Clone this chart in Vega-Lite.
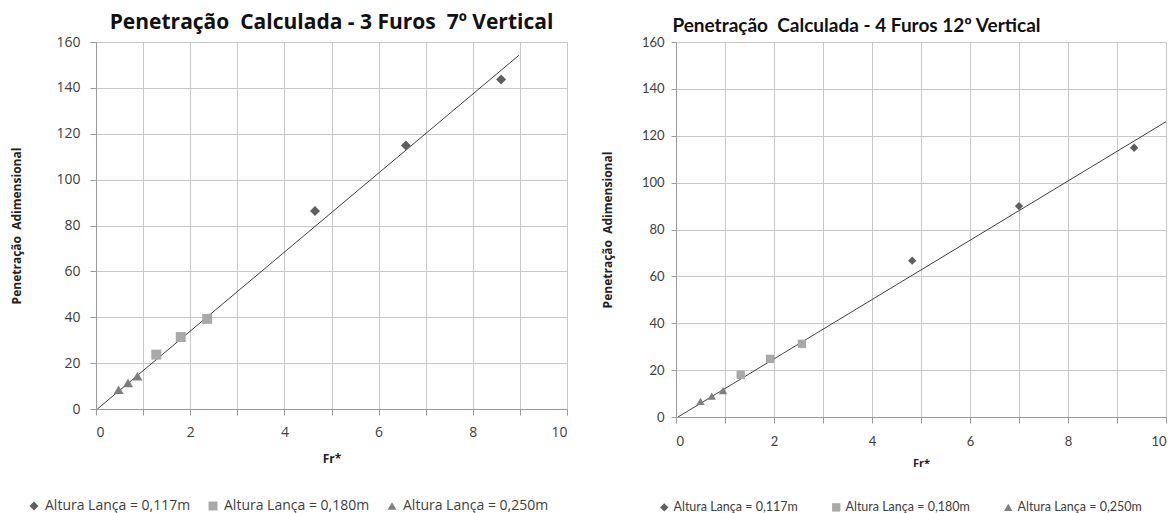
{
  "$schema": "https://vega.github.io/schema/vega-lite/v6.json",
  "background": "white",
  "padding": {"left": 10, "top": 12, "right": 0, "bottom": 0},
  "datasets": {
    "ptsA": [
      {"x": 4.65, "y": 86.3, "serie": "Altura Lança = 0,117m"},
      {"x": 6.58, "y": 114.9, "serie": "Altura Lança = 0,117m"},
      {"x": 8.6, "y": 143.7, "serie": "Altura Lança = 0,117m"},
      {"x": 1.28, "y": 23.7, "serie": "Altura Lança = 0,180m"},
      {"x": 1.8, "y": 31.4, "serie": "Altura Lança = 0,180m"},
      {"x": 2.36, "y": 39.3, "serie": "Altura Lança = 0,180m"},
      {"x": 0.48, "y": 8.4, "serie": "Altura Lança = 0,250m"},
      {"x": 0.68, "y": 11.4, "serie": "Altura Lança = 0,250m"},
      {"x": 0.88, "y": 14.3, "serie": "Altura Lança = 0,250m"}
    ],
    "lineA": [
      {"x": 0.03, "y": 0},
      {"x": 8.98, "y": 154.2}
    ],
    "ptsB": [
      {"x": 4.82, "y": 66.7, "serie": "Altura Lança = 0,117m"},
      {"x": 7.0, "y": 90.0, "serie": "Altura Lança = 0,117m"},
      {"x": 9.35, "y": 114.9, "serie": "Altura Lança = 0,117m"},
      {"x": 1.32, "y": 18.0, "serie": "Altura Lança = 0,180m"},
      {"x": 1.92, "y": 24.8, "serie": "Altura Lança = 0,180m"},
      {"x": 2.57, "y": 31.2, "serie": "Altura Lança = 0,180m"},
      {"x": 0.5, "y": 6.7, "serie": "Altura Lança = 0,250m"},
      {"x": 0.73, "y": 8.9, "serie": "Altura Lança = 0,250m"},
      {"x": 0.96, "y": 11.3, "serie": "Altura Lança = 0,250m"}
    ],
    "lineB": [
      {"x": 0.04, "y": 0},
      {"x": 10, "y": 126}
    ]
  },
  "config": {
    "view": {"stroke": null},
    "axis": {
      "gridColor": "#c8c8c8",
      "gridWidth": 1,
      "domainColor": "#9a9a9a",
      "tickColor": "#9a9a9a",
      "labelColor": "#404040",
      "titleColor": "#222222",
      "titleFontWeight": "bold"
    },
    "legend": {
      "labelColor": "#404040"
    }
  },
  "spacing": 33,
  "resolve": {
    "scale": {"color": "independent", "shape": "independent"},
    "legend": {"color": "independent", "shape": "independent"}
  },
  "hconcat": [
    {
      "width": 471,
      "height": 367,
      "title": {
        "text": "Penetração\u00a0 Calculada - 3 Furos\u00a0 7º Vertical",
        "font": "Open Sans",
        "fontSize": 21,
        "fontWeight": "bold",
        "color": "#111111",
        "anchor": "middle",
        "offset": 2
      },
      "layer": [
        {
          "data": {"name": "lineA"},
          "mark": {"type": "line", "color": "#404040", "strokeWidth": 1},
          "encoding": {
            "x": {"field": "x", "type": "quantitative", "scale": {"domain": [0, 10], "nice": false},
              "axis": {"title": "Fr*", "values": [0,1,2,3,4,5,6,7,8,9,10], "labelExpr": "datum.value % 2 === 0 ? datum.label : ''", "labelFont": "Open Sans", "labelFontSize": 14, "tickSize": 6, "labelPadding": 10, "titleFont": "Open Sans", "titleFontSize": 12, "titlePadding": 14}},
            "y": {"field": "y", "type": "quantitative", "scale": {"domain": [0, 160], "nice": false},
              "axis": {"title": "Penetração\u00a0 Adimensional", "values": [0,20,40,60,80,100,120,140,160], "labelFont": "Open Sans", "labelFontSize": 14, "tickSize": 6, "labelPadding": 10, "titleFont": "Open Sans", "titleFontSize": 12, "titlePadding": 32}}
          }
        },
        {
          "data": {"name": "ptsA"},
          "mark": {"type": "point", "filled": true, "size": 100, "opacity": 1},
          "encoding": {
            "x": {"field": "x", "type": "quantitative"},
            "y": {"field": "y", "type": "quantitative"},
            "shape": {"field": "serie", "type": "nominal",
              "scale": {"domain": ["Altura Lança = 0,117m", "Altura Lança = 0,180m", "Altura Lança = 0,250m"], "range": ["diamond", "square", "triangle-up"]},
              "legend": {"orient": "none", "legendX": -69, "legendY": 457, "direction": "horizontal", "title": null, "labelFont": "Open Sans", "labelFontSize": 14, "symbolSize": 80, "labelOffset": 4, "columnPadding": 15, "labelLimit": 300}},
            "color": {"field": "serie", "type": "nominal",
              "scale": {"domain": ["Altura Lança = 0,117m", "Altura Lança = 0,180m", "Altura Lança = 0,250m"], "range": ["#5f5f5f", "#a9a9a9", "#7f7f7f"]},
              "legend": {"orient": "none", "legendX": -69, "legendY": 457, "direction": "horizontal", "title": null, "labelFont": "Open Sans", "labelFontSize": 14, "symbolSize": 80, "labelOffset": 4, "columnPadding": 15, "labelLimit": 300}}
          }
        }
      ]
    },
    {
      "width": 490,
      "height": 375,
      "title": {
        "text": "Penetração\u00a0 Calculada - 4 Furos 12º Vertical",
        "font": "Lato",
        "fontSize": 19,
        "fontWeight": "bold",
        "color": "#111111",
        "anchor": "start",
        "dx": 71,
        "offset": 0
      },
      "layer": [
        {
          "data": {"name": "lineB"},
          "mark": {"type": "line", "color": "#404040", "strokeWidth": 1},
          "encoding": {
            "x": {"field": "x", "type": "quantitative", "scale": {"domain": [0, 10], "nice": false},
              "axis": {"title": "Fr*", "values": [0,1,2,3,4,5,6,7,8,9,10], "labelExpr": "datum.value % 2 === 0 ? datum.label : ''", "labelFont": "Lato", "labelFontSize": 13, "tickSize": 6, "labelPadding": 12, "titleFont": "Open Sans", "titleFontSize": 11, "titlePadding": 9}},
            "y": {"field": "y", "type": "quantitative", "scale": {"domain": [0, 160], "nice": false},
              "axis": {"title": "Penetração\u00a0 Adimensional", "values": [0,20,40,60,80,100,120,140,160], "labelFont": "Lato", "labelFontSize": 13, "tickSize": 5, "labelPadding": 7, "titleFont": "Open Sans", "titleFontSize": 12, "titlePadding": 27}}
          }
        },
        {
          "data": {"name": "ptsB"},
          "mark": {"type": "point", "filled": true, "size": 70, "opacity": 1},
          "encoding": {
            "x": {"field": "x", "type": "quantitative"},
            "y": {"field": "y", "type": "quantitative"},
            "shape": {"field": "serie", "type": "nominal",
              "scale": {"domain": ["Altura Lança = 0,117m", "Altura Lança = 0,180m", "Altura Lança = 0,250m"], "range": ["diamond", "square", "triangle-up"]},
              "legend": {"orient": "none", "legendX": -18, "legendY": 459, "direction": "horizontal", "title": null, "labelFont": "Lato", "labelFontSize": 12.5, "symbolSize": 70, "labelOffset": 3, "columnPadding": 32, "labelLimit": 300}},
            "color": {"field": "serie", "type": "nominal",
              "scale": {"domain": ["Altura Lança = 0,117m", "Altura Lança = 0,180m", "Altura Lança = 0,250m"], "range": ["#5f5f5f", "#a9a9a9", "#7f7f7f"]},
              "legend": {"orient": "none", "legendX": -18, "legendY": 459, "direction": "horizontal", "title": null, "labelFont": "Lato", "labelFontSize": 12.5, "symbolSize": 70, "labelOffset": 3, "columnPadding": 32, "labelLimit": 300}}
          }
        }
      ]
    }
  ]
}
